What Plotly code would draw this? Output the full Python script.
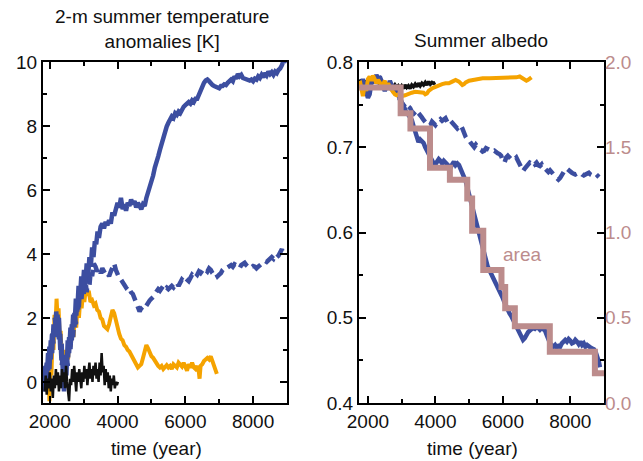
import plotly.graph_objects as go

# ---------------- Left panel: 2-m summer temperature anomalies [K] ----------------
bs_t = [1830,1870,1910,1950,1990,2030,2070,2110,2150,2190,2230,2270,2310,2350,2390,2420,2450,2490,2530,2570,
        2610,2650,2690,2730,2770,2810,2850,2890,2930,2970,3010,3050,3090,3130,3170,3210,3250,3290,3330,3370,
        3410,3450,3500,3550,3600,3650,3700,3750,3800,3850,3900,3950,4000,4050,4100,4150,4200,4250,4300,4350,
        4400,4450,4500,4550,4600,4650,4700,4750,4800,4850,4900,4950,5000,5050,5100,5150,5200,5250,5300,5350,
        5400,5450,5500,5550,5600,5650,5700,5750,5800,5850,5900,5950,6000,6050,6100,6150,6200,6250,6300,6350,
        6400,6450,6500,6550,6600,6650,6700,6750,6800,6850,6900,6950,7000,7050,7100,7150,7200,7250,7300,7350,
        7400,7450,7500,7550,7600,7650,7700,7750,7800,7850,7900,7950,8000,8050,8100,8150,8200,8250,8300,8350,
        8400,8450,8500,8550,8600,8650,8700,8750,8800,8850,8900,8930]
bs_v = [-0.30,0.50,0.10,0.90,0.40,1.30,0.90,1.80,1.40,2.20,1.60,2.00,1.00,1.20,0.20,-0.30,0.60,0.20,1.30,0.90,
        1.70,1.30,2.10,1.70,2.60,2.20,3.00,2.60,3.30,2.90,3.50,3.10,3.70,3.30,3.90,3.60,4.20,3.90,4.40,4.30,
        4.70,4.50,4.85,4.95,4.80,5.00,4.90,5.05,4.95,5.30,5.20,5.45,5.60,5.45,5.75,5.40,5.55,5.35,5.60,5.50,
        5.70,5.55,5.65,5.45,5.60,5.50,5.40,5.55,5.50,5.75,5.90,6.05,6.25,6.45,6.70,6.95,7.05,7.25,7.45,7.65,
        7.85,7.98,8.10,8.25,8.30,8.25,8.40,8.35,8.45,8.40,8.55,8.60,8.65,8.70,8.75,8.70,8.80,8.75,8.85,8.85,
        9.00,9.10,9.25,9.35,9.42,9.45,9.40,9.32,9.28,9.25,9.22,9.20,9.18,9.25,9.25,9.30,9.28,9.35,9.38,9.45,
        9.40,9.55,9.48,9.62,9.55,9.60,9.50,9.48,9.45,9.45,9.42,9.45,9.40,9.48,9.45,9.55,9.50,9.60,9.52,9.65,
        9.58,9.70,9.62,9.68,9.60,9.70,9.65,9.75,9.80,9.90,10.05,9.95]

bd_t = [1830,1870,1910,1950,1990,2030,2070,2110,2150,2190,2230,2270,2310,2350,2390,2420,2450,2490,2530,2570,
        2610,2650,2690,2730,2770,2810,2850,2890,2930,2970,3010,3050,3090,3130,3170,3210,3250,3300,3350,3400,
        3450,3500,3550,3600,3650,3700,3750,3800,3850,3900,3950,4000,4050,4100,4150,4200,4250,4300,4350,4400,
        4450,4500,4550,4600,4650,4700,4750,4800,4850,4900,4950,5000,5050,5100,5150,5200,5250,5300,5350,5400,
        5450,5500,5550,5600,5650,5700,5750,5800,5850,5900,5950,6000,6050,6100,6150,6200,6250,6300,6350,6400,
        6450,6500,6550,6600,6650,6700,6750,6800,6850,6900,6950,7000,7050,7100,7150,7200,7250,7300,7350,7400,
        7450,7500,7550,7600,7650,7700,7750,7800,7850,7900,7950,8000,8050,8100,8150,8200,8250,8300,8350,8400,
        8450,8500,8550,8600,8650,8700,8750,8800,8850,8880]
bd_v = [-0.10,0.30,0.60,0.30,1.10,0.70,1.60,1.20,2.00,1.50,2.10,1.30,1.50,0.50,0.80,0.00,0.30,0.90,0.50,1.40,
        1.00,1.80,1.40,2.20,1.80,2.60,2.20,2.90,2.50,3.10,2.70,3.20,2.80,3.30,3.00,3.50,3.30,3.70,3.60,3.45,
        3.55,3.40,3.55,3.45,3.35,3.40,3.30,3.45,3.55,3.70,3.50,3.35,3.25,3.20,3.10,3.05,2.95,3.00,2.85,2.80,
        2.75,2.60,2.40,2.25,2.20,2.30,2.35,2.30,2.40,2.50,2.55,2.60,2.65,2.75,2.85,2.90,2.85,2.95,3.00,2.90,
        2.95,2.90,2.95,3.00,2.95,3.05,3.10,3.00,3.10,3.20,3.15,3.25,3.20,3.15,3.25,3.35,3.30,3.40,3.35,3.45,
        3.40,3.50,3.55,3.50,3.45,3.55,3.50,3.40,3.35,3.40,3.30,3.35,3.40,3.50,3.55,3.60,3.58,3.62,3.65,3.60,
        3.68,3.65,3.60,3.55,3.65,3.70,3.72,3.65,3.60,3.55,3.58,3.62,3.60,3.55,3.60,3.65,3.70,3.72,3.78,3.75,
        3.80,3.85,3.90,3.85,3.95,3.90,3.95,4.05,4.15,4.00]

ol_t = [1900,1930,1960,1990,2020,2050,2080,2110,2140,2170,2200,2230,2260,2290,2320,2350,2380,2410,2440,2470,
        2500,2540,2580,2620,2660,2700,2740,2780,2820,2860,2900,2940,2980,3020,3060,3100,3150,3200,3250,3300,
        3350,3400,3450,3500,3550,3600,3650,3700,3750,3800,3850,3900,3950,4000,4050,4100,4150,4200,4250,4300,
        4350,4400,4450,4500,4550,4600,4650,4700,4750,4800,4850,4900,4950,5000,5050,5100,5150,5200,5250,5300,
        5350,5400,5450,5500,5550,5600,5650,5700,5750,5800,5850,5900,5950,6000,6050,6100,6150,6200,6250,6300,
        6350,6400,6420,6450,6500,6550,6600,6650,6700,6750,6800,6850,6900,6930]
ol_v = [0.30,-0.20,0.50,-0.60,0.80,0.20,1.50,1.00,2.10,1.80,2.60,2.00,2.30,1.40,1.60,0.80,1.00,0.30,0.70,0.40,
        1.00,0.70,1.40,1.10,1.80,1.40,2.10,1.70,2.40,2.00,2.60,2.30,2.80,2.50,2.90,2.70,2.85,2.50,2.55,2.40,
        2.45,2.25,2.20,2.00,1.95,1.75,1.70,1.65,1.80,2.05,2.25,2.15,1.90,1.70,1.50,1.35,1.30,1.15,1.10,1.00,
        0.95,0.85,0.75,0.60,0.50,0.45,0.50,0.55,0.75,0.95,1.15,1.05,0.90,0.80,0.75,0.65,0.55,0.50,0.45,0.50,
        0.40,0.48,0.52,0.45,0.50,0.40,0.55,0.50,0.45,0.60,0.55,0.48,0.60,0.45,0.35,0.55,0.45,0.60,0.45,0.40,
        0.50,0.30,0.10,0.50,0.55,0.65,0.70,0.75,0.70,0.80,0.65,0.50,0.35,0.25]

kl_t = [1850,1880,1910,1940,1970,2000,2030,2060,2090,2120,2150,2180,2210,2240,2270,2300,2330,2360,2390,2420,
        2450,2480,2510,2540,2570,2600,2630,2660,2690,2720,2750,2780,2810,2840,2870,2900,2930,2960,2990,3020,
        3050,3080,3110,3140,3170,3200,3230,3260,3290,3320,3350,3380,3410,3440,3470,3500,3530,3560,3590,3620,
        3650,3680,3710,3740,3770,3800,3830,3860,3890,3920,3950,3980,4010]
kl_v = [-0.30,0.20,-0.40,0.10,-0.20,0.30,-0.30,0.10,-0.50,0.20,-0.20,0.40,-0.10,0.30,-0.30,0.20,-0.20,0.40,0.00,0.30,
        -0.20,0.50,0.00,-0.40,-0.60,0.10,-0.10,0.40,0.00,0.50,0.10,-0.30,0.30,0.00,0.40,0.10,-0.20,0.30,0.00,0.50,
        0.10,0.40,-0.10,0.30,0.60,0.10,0.40,0.00,0.50,0.20,0.60,0.10,0.40,0.00,0.60,0.20,0.90,0.30,0.50,-0.10,
        0.40,0.00,0.30,-0.20,0.20,-0.30,0.10,-0.10,0.20,-0.20,0.00,-0.10,0.00]

# ---------------- Right panel: Summer albedo + ice area ----------------
rs_t = [1760,1800,1850,1900,1950,2000,2050,2100,2150,2200,2250,2300,2350,2400,2450,2500,2550,2600,2650,2700,
        2750,2800,2850,2900,2950,3000,3050,3100,3150,3200,3250,3300,3350,3400,3450,3500,3550,3600,3650,3700,
        3750,3800,3850,3900,3950,4000,4050,4100,4150,4200,4250,4300,4350,4400,4450,4500,4550,4600,4650,4700,
        4750,4800,4850,4900,4950,5000,5050,5100,5150,5200,5250,5300,5350,5400,5450,5500,5550,5600,5650,5700,
        5750,5800,5850,5900,5950,6000,6050,6100,6150,6200,6250,6300,6350,6400,6450,6500,6550,6600,6650,6700,
        6750,6800,6850,6900,6950,7000,7050,7100,7150,7200,7250,7300,7350,7400,7450,7500,7550,7600,7650,7700,
        7750,7800,7850,7900,7950,8000,8050,8100,8150,8200,8250,8300,8350,8400,8450,8500,8550,8600,8650,8700,
        8750,8800,8850,8880]
rs_v = [0.777,0.772,0.780,0.770,0.765,0.758,0.762,0.775,0.782,0.778,0.785,0.780,0.783,0.778,0.772,0.768,0.774,0.770,0.778,0.772,
        0.768,0.770,0.765,0.760,0.757,0.753,0.749,0.744,0.740,0.738,0.735,0.732,0.725,0.717,0.710,0.706,0.709,0.707,0.705,0.700,
        0.696,0.692,0.688,0.684,0.681,0.680,0.683,0.686,0.684,0.681,0.684,0.682,0.679,0.677,0.676,0.680,0.683,0.679,0.681,0.679,
        0.675,0.670,0.665,0.660,0.652,0.645,0.638,0.628,0.620,0.612,0.605,0.600,0.591,0.582,0.574,0.566,0.560,0.556,0.552,0.549,
        0.545,0.541,0.537,0.533,0.528,0.523,0.518,0.513,0.509,0.505,0.502,0.498,0.494,0.490,0.485,0.480,0.476,0.474,0.476,0.480,
        0.483,0.485,0.487,0.488,0.487,0.489,0.488,0.486,0.488,0.487,0.485,0.480,0.474,0.470,0.468,0.466,0.468,0.465,0.467,0.466,
        0.470,0.472,0.474,0.472,0.475,0.473,0.470,0.471,0.474,0.472,0.469,0.472,0.468,0.470,0.466,0.468,0.466,0.465,0.464,0.463,
        0.460,0.455,0.448,0.442]

rd_t = [1760,1800,1850,1900,1950,2000,2050,2100,2150,2200,2250,2300,2350,2400,2450,2500,2550,2600,2650,2700,
        2750,2800,2850,2900,2950,3000,3050,3100,3150,3200,3250,3300,3350,3400,3450,3500,3550,3600,3650,3700,
        3750,3800,3850,3900,3950,4000,4050,4100,4150,4200,4250,4300,4350,4400,4450,4500,4550,4600,4650,4700,
        4750,4800,4850,4900,4950,5000,5050,5100,5150,5200,5250,5300,5350,5400,5450,5500,5550,5600,5650,5700,
        5750,5800,5850,5900,5950,6000,6050,6100,6150,6200,6250,6300,6350,6400,6450,6500,6550,6600,6650,6700,
        6750,6800,6850,6900,6950,7000,7050,7100,7150,7200,7250,7300,7350,7400,7450,7500,7550,7600,7650,7700,
        7750,7800,7850,7900,7950,8000,8050,8100,8150,8200,8250,8300,8350,8400,8450,8500,8550,8600,8650,8700,
        8750,8800,8850]
rd_v = [0.775,0.770,0.778,0.772,0.768,0.762,0.766,0.777,0.780,0.776,0.782,0.778,0.780,0.775,0.770,0.766,0.771,0.768,0.774,0.770,
        0.766,0.767,0.763,0.758,0.755,0.752,0.750,0.747,0.745,0.748,0.746,0.742,0.740,0.738,0.736,0.740,0.738,0.735,0.732,0.730,
        0.728,0.725,0.726,0.730,0.728,0.726,0.729,0.732,0.733,0.731,0.732,0.734,0.730,0.733,0.731,0.729,0.727,0.724,0.722,0.724,
        0.726,0.722,0.716,0.712,0.709,0.708,0.705,0.702,0.700,0.703,0.700,0.698,0.697,0.695,0.696,0.699,0.698,0.697,0.696,0.695,
        0.696,0.694,0.693,0.692,0.690,0.684,0.682,0.688,0.690,0.688,0.686,0.687,0.686,0.688,0.684,0.680,0.676,0.672,0.675,0.678,
        0.680,0.682,0.681,0.683,0.680,0.682,0.679,0.678,0.680,0.676,0.675,0.673,0.671,0.673,0.670,0.668,0.666,0.664,0.662,0.664,
        0.668,0.672,0.674,0.675,0.673,0.672,0.670,0.669,0.668,0.669,0.670,0.670,0.668,0.667,0.668,0.669,0.670,0.668,0.667,0.668,
        0.669,0.667,0.665]

or_t = [1760,1800,1850,1900,1950,2000,2050,2100,2150,2200,2250,2300,2350,2400,2450,2500,2550,2600,2650,2700,
        2750,2800,2850,2900,2950,3000,3100,3200,3300,3400,3500,3600,3650,3700,3750,3800,3850,3900,3950,4000,
        4100,4200,4300,4400,4500,4600,4700,4800,4850,4900,5000,5200,5400,5600,5800,6000,6200,6400,6500,6600,
        6650,6700,6750,6800,6850]
or_v = [0.778,0.770,0.760,0.772,0.766,0.780,0.783,0.778,0.784,0.780,0.775,0.779,0.776,0.770,0.774,0.778,0.772,0.775,0.770,0.767,
        0.764,0.762,0.761,0.762,0.761,0.760,0.761,0.763,0.764,0.765,0.765,0.765,0.764,0.762,0.763,0.766,0.768,0.769,0.770,0.771,
        0.773,0.774,0.775,0.775,0.777,0.779,0.777,0.773,0.774,0.776,0.778,0.780,0.781,0.781,0.781,0.781,0.782,0.782,0.783,0.781,
        0.779,0.778,0.779,0.781,0.782]

kr_t = [1760,1800,1850,1900,1950,2000,2050,2100,2150,2200,2250,2300,2350,2400,2450,2500,2550,2600,2650,2700,
        2750,2800,2850,2900,2950,3000,3050,3100,3150,3200,3250,3300,3350,3400,3450,3500,3550,3600,3650,3700,
        3750,3800,3850,3900,3950,4000]
kr_v = [0.776,0.779,0.774,0.778,0.775,0.779,0.776,0.780,0.777,0.779,0.775,0.778,0.774,0.777,0.773,0.776,0.772,0.775,0.771,0.774,
        0.770,0.773,0.770,0.772,0.769,0.772,0.769,0.773,0.770,0.772,0.769,0.773,0.771,0.774,0.771,0.775,0.772,0.775,0.773,0.776,
        0.773,0.777,0.774,0.776,0.775,0.776]

area_t = [1740,2970,3260,3840,4430,4945,5090,5420,5960,6070,6356,7393,8730,9000]
area_v = [1.85,1.70,1.61,1.38,1.31,1.20,1.01,0.78,0.68,0.555,0.45,0.30,0.175,0.175]

# tick labels
left_y_ticks = [0, 2, 4, 6, 8, 10]
x_ticks = [2000, 4000, 6000, 8000]
alb_ticks = [0.4, 0.5, 0.6, 0.7, 0.8]
alb_labels = ["0.4", "0.5", "0.6", "0.7", "0.8"]
area_ticks = [0.0, 0.5, 1.0, 1.5, 2.0]
area_labels = ["0.0", "0.5", "1.0", "1.5", "2.0"]

BLUE = "#3c4ea0"
ORANGE = "#f5a300"
BLACK = "#111111"
ROSY = "#bc8c8c"
FONT = "Liberation Sans, Arial, sans-serif"

W, H = 643, 461
def px_x(p): return p / W
def px_y(p): return 1 - p / H

fig = go.Figure()
# left
fig.add_trace(go.Scatter(x=ol_t, y=ol_v, mode="lines", line=dict(color=ORANGE, width=4), xaxis="x", yaxis="y"))
fig.add_trace(go.Scatter(x=bd_t, y=bd_v, mode="lines", line=dict(color=BLUE, width=4.5, dash="11px,6px"), xaxis="x", yaxis="y"))
fig.add_trace(go.Scatter(x=bs_t, y=bs_v, mode="lines", line=dict(color=BLUE, width=4.5), xaxis="x", yaxis="y"))
fig.add_trace(go.Scatter(x=kl_t, y=kl_v, mode="lines", line=dict(color=BLACK, width=2.5), xaxis="x", yaxis="y"))
# right
fig.add_trace(go.Scatter(x=kr_t, y=kr_v, mode="lines", line=dict(color=BLACK, width=3.5), xaxis="x2", yaxis="y2"))
fig.add_trace(go.Scatter(x=rs_t, y=rs_v, mode="lines", line=dict(color=BLUE, width=4.5), xaxis="x2", yaxis="y2"))
fig.add_trace(go.Scatter(x=rd_t, y=rd_v, mode="lines", line=dict(color=BLUE, width=4.5, dash="11px,6px"), xaxis="x2", yaxis="y2"))
fig.add_trace(go.Scatter(x=or_t, y=or_v, mode="lines", line=dict(color=ORANGE, width=4), xaxis="x2", yaxis="y2"))
fig.add_trace(go.Scatter(x=area_t, y=area_v, mode="lines", line=dict(color=ROSY, width=6, shape="hv"), xaxis="x2", yaxis="y3"))

ax_common = dict(showline=True, linecolor="black", linewidth=2, mirror="ticks", ticks="inside",
                 ticklen=7, tickwidth=1.5, tickcolor="black", showgrid=False, zeroline=False, automargin=False,
                 tickfont=dict(family=FONT, size=19, color="#111"))
def minor(d):
    return dict(dtick=d, tick0=0, ticks="inside", ticklen=4, tickwidth=1.5, tickcolor="black", showgrid=False)

ydom = [px_y(403), px_y(62)]
fig.update_layout(
    width=W, height=H, margin=dict(l=0, r=0, t=0, b=0, autoexpand=False),
    paper_bgcolor="white", plot_bgcolor="white", showlegend=False,
    font=dict(family=FONT, size=19, color="#111"),
    xaxis=dict(domain=[px_x(43), px_x(287)], range=[1800, 9000], anchor="y",
               tickvals=x_ticks, minor=minor(1000), **ax_common),
    yaxis=dict(domain=ydom, range=[-0.66, 10], anchor="x",
               tickvals=left_y_ticks, minor=minor(1), **ax_common),
    xaxis2=dict(domain=[px_x(359), px_x(604)], range=[1735, 9000], anchor="y2",
                tickvals=x_ticks, minor=minor(1000), **ax_common),
    yaxis2=dict(domain=ydom, range=[0.4, 0.8], anchor="x2",
                tickvals=alb_ticks, ticktext=alb_labels, minor=minor(0.05), **ax_common),
    yaxis3=dict(range=[0, 2], overlaying="y2", side="right", anchor="x2", showline=False, showgrid=False,
                zeroline=False, ticks="", tickvals=area_ticks, ticktext=area_labels, automargin=False,
                tickfont=dict(family=FONT, size=19, color=ROSY)),
)

ann = dict(xref="paper", yref="paper", showarrow=False, font=dict(family=FONT, size=19, color="#111"))
fig.add_annotation(x=px_x(162), y=px_y(29.5), text="2-m summer temperature<br>anomalies [K]", xanchor="center", yanchor="middle", **ann)
fig.add_annotation(x=px_x(481), y=px_y(41), text="Summer albedo", xanchor="center", yanchor="middle", **ann)
fig.add_annotation(x=px_x(156), y=px_y(448), text="time (year)", xanchor="center", yanchor="middle", **ann)
fig.add_annotation(x=px_x(472), y=px_y(448), text="time (year)", xanchor="center", yanchor="middle", **ann)
fig.add_annotation(x=6554, y=0.574, xref="x2", yref="y2", text="area", showarrow=False,
                   font=dict(family=FONT, size=19, color=ROSY))

fig.write_html("out.html")
